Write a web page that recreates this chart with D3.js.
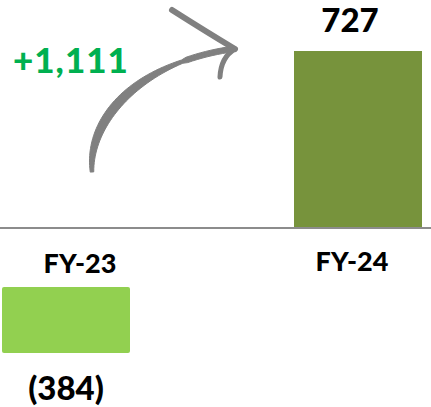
<!DOCTYPE html>
<html>
<head>
<meta charset="utf-8">
<script src="https://cdn.jsdelivr.net/npm/d3@7"></script>
<style>
  body { margin: 0; background: #fff; }
  svg { display: block; }
  text { font-family: Lato, "Open Sans", sans-serif; font-weight: 900; }
</style>
</head>
<body>
<div id="chart"></div>
<script>
// data
var categories = ["FY-23", "FY-24"];
var values = [-384, 727];
var valueLabels = ["(384)", "727"];
var changeLabel = "+1,111";
var barColors = ["#92D050", "#77933C"];

var width = 431, height = 407;

var svg = d3.select("#chart")
  .append("svg")
  .attr("width", width)
  .attr("height", height);

// x positions of bars (centres) and of category labels
var x = d3.scalePoint().domain(categories).range([66, 358]);
var xLab = d3.scalePoint().domain(categories).range([80, 352]);
var barWidth = 128;

// positive values sit on the baseline, the negative one hangs below the labels
var y = d3.scaleLinear().domain([0, 727]).range([229, 51]);
var yNeg = d3.scaleLinear().domain([0, -384]).range([287, 353]);

var data = categories.map(function(c, i){ return {cat: c, value: values[i], label: valueLabels[i], color: barColors[i]}; });

svg.selectAll("bars")
  .data(data)
  .enter()
  .append("rect")
    .attr("x", function(d){ return x(d.cat) - barWidth / 2; })
    .attr("y", function(d){ return d.value >= 0 ? y(d.value) : yNeg(0); })
    .attr("width", barWidth)
    .attr("height", function(d){ return d.value >= 0 ? y(0) - y(d.value) : yNeg(d.value) - yNeg(0); })
    .attr("rx", function(d){ return d.value >= 0 ? 0 : 2; })
    .style("fill", function(d){ return d.color; });

// baseline
svg.append("line")
  .attr("x1", 0)
  .attr("x2", width)
  .attr("y1", y(0) - 1)
  .attr("y2", y(0) - 1)
  .attr("stroke", "#8c8c8c")
  .attr("stroke-width", 2);

// category labels
svg.selectAll("catLabels")
  .data(data)
  .enter()
  .append("text")
    .attr("x", function(d){ return xLab(d.cat); })
    .attr("y", function(d, i){ return i === 0 ? 273 : 271; })
    .attr("text-anchor", "middle")
    .style("font-size", "27px")
    .style("fill", "#000")
    .text(function(d){ return d.cat; });

// value labels
svg.selectAll("valLabels")
  .data(data)
  .enter()
  .append("text")
    .attr("x", function(d){ return d.value >= 0 ? x(d.cat) - 8 : x(d.cat); })
    .attr("y", function(d){ return d.value >= 0 ? y(d.value) - 19 : yNeg(d.value) + 47; })
    .attr("text-anchor", "middle")
    .style("font-size", "33px")
    .style("fill", "#000")
    .text(function(d){ return d.label; });

// change label
svg.append("text")
  .attr("x", 13)
  .attr("y", 73)
  .style("font-size", "35px")
  .style("letter-spacing", "1px")
  .style("fill", "#00B050")
  .text(changeLabel);

// curved arrow: tapered body built along a cubic bezier
var p0 = [92, 172], p1 = [88, 118], p2 = [140, 62], p3 = [233, 49];
function bez(t){
  var u = 1 - t;
  return [
    u*u*u*p0[0] + 3*u*u*t*p1[0] + 3*u*t*t*p2[0] + t*t*t*p3[0],
    u*u*u*p0[1] + 3*u*u*t*p1[1] + 3*u*t*t*p2[1] + t*t*t*p3[1]
  ];
}
var left = [], right = [];
d3.range(0, 1.0001, 0.02).forEach(function(t){
  var a = bez(Math.max(0, t - 0.01)), b = bez(Math.min(1, t + 0.01)), p = bez(t);
  var dx = b[0] - a[0], dy = b[1] - a[1], len = Math.sqrt(dx*dx + dy*dy);
  var nx = -dy / len, ny = dx / len;
  var w = (3.5 + 5.5 * Math.sin(Math.PI * Math.min(1, t * 1.25))) / 2;
  if (t > 0.8) w = Math.max(w, 2.8);
  left.push([p[0] + nx*w, p[1] + ny*w]);
  right.unshift([p[0] - nx*w, p[1] - ny*w]);
});
svg.append("path")
  .attr("d", d3.line().curve(d3.curveLinearClosed)(left.concat(right)))
  .attr("fill", "#808080")
  .attr("stroke", "#808080")
  .attr("stroke-width", 1)
  .attr("stroke-linejoin", "round");

var arrow = svg.append("g")
  .attr("fill", "none")
  .attr("stroke", "#808080")
  .attr("stroke-linecap", "round");
arrow.append("path")
  .attr("d", "M172,10 Q205,31 235,49")
  .attr("stroke-width", 6);
arrow.append("path")
  .attr("d", "M235,49 Q221,57 220,77")
  .attr("stroke-width", 5);
</script>
</body>
</html>
